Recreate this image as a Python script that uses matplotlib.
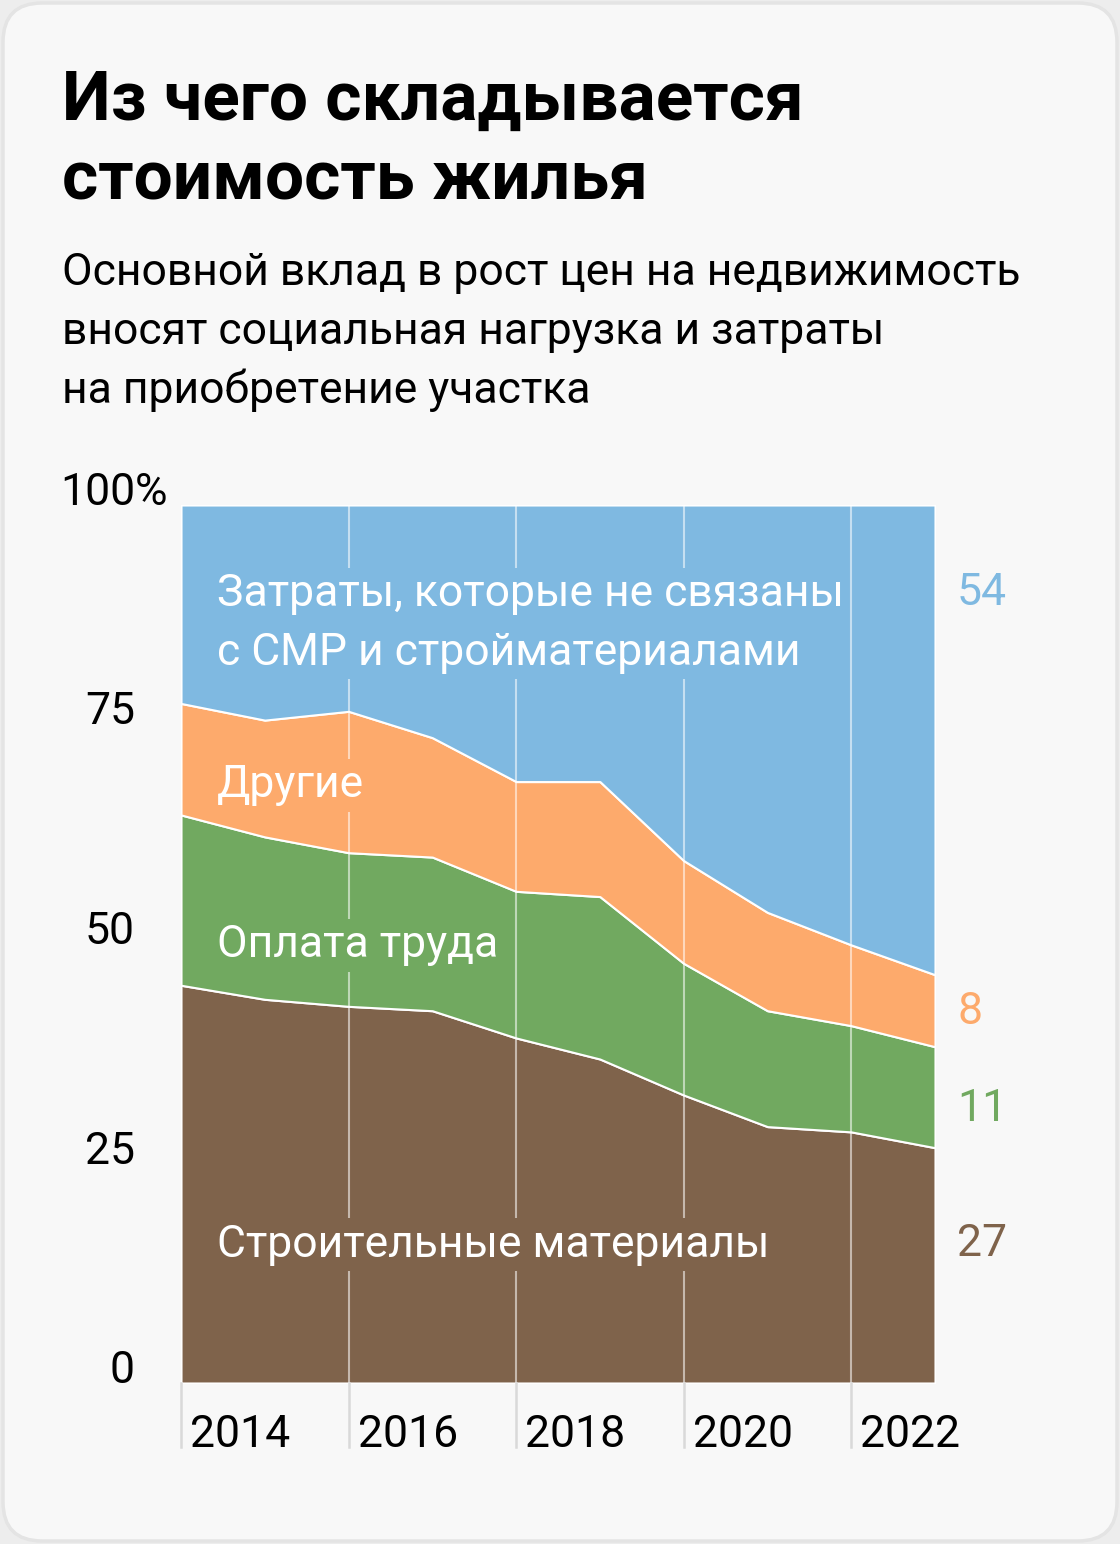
import matplotlib
matplotlib.use("Agg")
import matplotlib.pyplot as plt
from matplotlib.patches import FancyBboxPatch
import numpy as np

# ---- data ----
years = [2014, 2015, 2016, 2017, 2018, 2019, 2020, 2021, 2022, 2023]
materials = [45.3, 43.7, 42.9, 42.4, 39.3, 36.9, 32.8, 29.2, 28.6, 26.8]
labour = [19.4, 18.5, 17.5, 17.5, 16.7, 18.5, 15.0, 13.2, 12.1, 11.5]
other = [12.7, 13.3, 16.1, 13.6, 12.5, 13.1, 11.7, 11.2, 9.2, 8.2]
noncmr = [round(100 - a - b - c, 1) for a, b, c in zip(materials, labour, other)]

series_names = ["Строительные материалы", "Оплата труда", "Другие",
                "Затраты, которые не связаны\nс СМР и стройматериалами"]
end_labels = ["27", "11", "8", "54"]
colors = ["#7f634b", "#71a960", "#fdaa6c", "#7fb9e1"]
ytick_vals = [0, 25, 50, 75, 100]
xtick_vals = [2014, 2016, 2018, 2020, 2022]

title_lines = ["Из чего складывается", "стоимость жилья"]
subtitle_lines = ["Основной вклад в рост цен на недвижимость",
                  "вносят социальная нагрузка и затраты",
                  "на приобретение участка"]

plt.rcParams['font.family'] = ['Roboto', 'DejaVu Sans']

W, H = 1120, 1544
fig = plt.figure(figsize=(W / 100, H / 100), dpi=100)
fig.patch.set_facecolor("#ededed")

card = FancyBboxPatch((3 / W, 3 / H), (W - 6) / W, (H - 6) / H,
                      boxstyle="round,pad=0,rounding_size=0.035",
                      transform=fig.transFigure, facecolor="#f8f8f8",
                      edgecolor="#e4e4e4", linewidth=2.5, zorder=-10,
                      mutation_aspect=W / H)
fig.patches.append(card)

for i, line in enumerate(title_lines):
    fig.text(62 / W, 1 - (120 + 80 * i) / H, line, fontsize=50, fontweight="bold",
             color="black", va="baseline", ha="left")
for i, line in enumerate(subtitle_lines):
    fig.text(62 / W, 1 - (285 + 59 * i) / H, line, fontsize=32, color="black",
             va="baseline", ha="left")

left, right, top, bottom = 181, 935, 505, 1383
ax = fig.add_axes([left / W, 1 - bottom / H, (right - left) / W, (bottom - top) / H])
ax.set_facecolor("none")
ax.set_zorder(5)

ax.stackplot(years, materials, labour, other, noncmr, colors=colors,
             edgecolor="white", linewidth=1.5, zorder=1)
ax.set_xlim(2014, 2023)
ax.set_ylim(0, 100)
ax.axis("off")

px_y = (bottom - top) / 100.0
px_x = (right - left) / 9.0

# gridlines
for x in xtick_vals:
    if x != 2014:
        ax.axvline(x, color="white", alpha=0.55, lw=1.5, zorder=2)
    ax.plot([x, x], [0, -64 / px_y], color="#d9d9d9", lw=1.8, clip_on=False, zorder=2)
    ax.text(x + 9 / px_x, -64 / px_y, str(x), fontsize=32, color="black",
            ha="left", va="baseline")

# y ticks
for v in ytick_vals:
    ax.text(2014 - 46 / px_x, v, str(v), fontsize=32, color="black",
            ha="right", va="baseline")
    if v == 100:
        ax.text(2014 - 46 / px_x, v, "%", fontsize=32, color="black",
                ha="left", va="baseline")

# area labels (y = baseline of last line)
label_y = [14.4, 48.5, 66.7, 81.8]
for name, yv, c in zip(series_names, label_y, colors):
    ax.text(2014 + 36 / px_x, yv, name, fontsize=32, color="white", ha="left",
            va="baseline", linespacing=1.5, zorder=4,
            bbox=dict(facecolor=c, edgecolor="none", pad=4))

# end labels
end_y = [14.5, 29.8, 40.9, 88.6]
for t, yv, c in zip(end_labels, end_y, colors):
    ax.text(2023 + 22 / px_x, yv, t, fontsize=32, color=c, ha="left", va="baseline")

fig.savefig("out.png", dpi=100, facecolor=fig.get_facecolor())
